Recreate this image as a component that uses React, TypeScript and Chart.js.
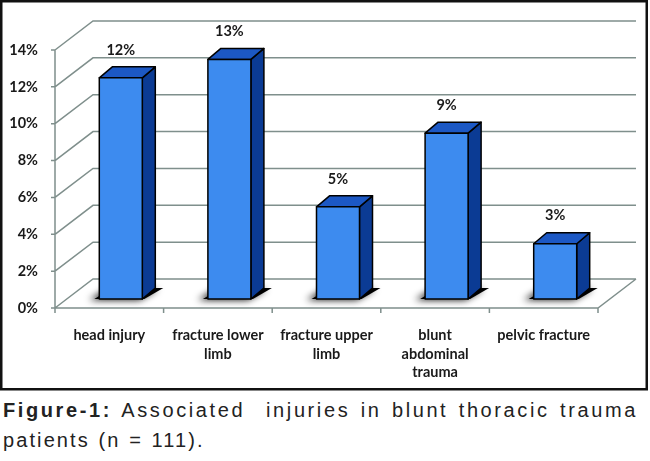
import React, { useRef, useEffect } from 'react';
import { Chart, registerables } from 'chart.js';

Chart.register(...registerables);

const injuryLabels = [
  ['head injury'],
  ['fracture lower', 'limb'],
  ['fracture upper', 'limb'],
  ['blunt', 'abdominal', 'trauma'],
  ['pelvic fracture'],
];
const injuryPercent = [12, 13, 5, 9, 3];
const percentTicks = [0, 2, 4, 6, 8, 10, 12, 14];

// 3d offsets (px)
const WALL_DX = 38;
const WALL_DY = -29;
const BAR_DX = 11.5;
const BAR_DY = -9;
const DEPTH_DX = 13;
const DEPTH_DY = -11;

const GRID = '#7f8f8c';
const LABEL_FONT = { family: 'Lato', size: 14.5, weight: 'bold' as const };

const box3d = {
  id: 'box3d',
  beforeDraw(chart: any) {
    const { ctx, width, height } = chart;
    ctx.save();
    ctx.fillStyle = '#fff';
    ctx.fillRect(0, 0, width, height);
    ctx.restore();
  },
  beforeDatasetsDraw(chart: any) {
    const { ctx, chartArea, scales } = chart;
    const { left, right, bottom, top } = chartArea;
    const y = scales.y;
    ctx.save();
    ctx.strokeStyle = GRID;
    ctx.lineWidth = 1.5;
    ctx.beginPath();
    percentTicks.forEach((v) => {
      const py = y.getPixelForValue(v);
      ctx.moveTo(left, py);
      ctx.lineTo(left + WALL_DX, py + WALL_DY);
      ctx.lineTo(right + WALL_DX, py + WALL_DY);
      // little tick on the front axis
      ctx.moveTo(left - 4, py);
      ctx.lineTo(left, py);
    });
    // front axis and floor edge
    ctx.moveTo(left, top);
    ctx.lineTo(left, bottom);
    ctx.lineTo(right, bottom);
    ctx.lineTo(right + WALL_DX, bottom + WALL_DY);
    // category ticks
    const step = (right - left) / injuryLabels.length;
    for (let i = 0; i <= injuryLabels.length; i++) {
      const px = left + step * i;
      ctx.moveTo(px, bottom);
      ctx.lineTo(px, bottom + 5);
    }
    ctx.stroke();
    ctx.restore();
  },
  afterDatasetsDraw(chart: any) {
    const { ctx } = chart;
    const meta = chart.getDatasetMeta(0);
    ctx.save();
    // shadows first
    meta.data.forEach((bar: any) => {
      const w = bar.width;
      const x0 = bar.x - w / 2 + BAR_DX;
      const x1 = bar.x + w / 2 + BAR_DX;
      const yb = bar.base + BAR_DY;
      ctx.save();
      ctx.shadowColor = 'rgba(0,0,0,0.95)';
      ctx.shadowBlur = 7;
      ctx.shadowOffsetX = -5;
      ctx.shadowOffsetY = 1;
      ctx.fillStyle = '#000';
      ctx.beginPath();
      ctx.moveTo(x0 - 5, yb);
      ctx.lineTo(x1 + 2, yb);
      ctx.lineTo(x1 + DEPTH_DX + 8, yb + DEPTH_DY);
      ctx.lineTo(x0 + DEPTH_DX, yb + DEPTH_DY);
      ctx.closePath();
      ctx.fill();
      ctx.restore();
    });
    ctx.lineWidth = 1.5;
    ctx.strokeStyle = '#000';
    ctx.lineJoin = 'round';
    meta.data.forEach((bar: any, i: number) => {
      const w = bar.width;
      const x0 = bar.x - w / 2 + BAR_DX;
      const x1 = bar.x + w / 2 + BAR_DX;
      const yt = bar.y + BAR_DY;
      const yb = bar.base + BAR_DY;
      // side
      ctx.fillStyle = '#0b3b94';
      ctx.beginPath();
      ctx.moveTo(x1, yt);
      ctx.lineTo(x1 + DEPTH_DX, yt + DEPTH_DY);
      ctx.lineTo(x1 + DEPTH_DX, yb + DEPTH_DY);
      ctx.lineTo(x1, yb);
      ctx.closePath();
      ctx.fill();
      ctx.stroke();
      // top
      ctx.fillStyle = '#1c58c4';
      ctx.beginPath();
      ctx.moveTo(x0, yt);
      ctx.lineTo(x0 + DEPTH_DX, yt + DEPTH_DY);
      ctx.lineTo(x1 + DEPTH_DX, yt + DEPTH_DY);
      ctx.lineTo(x1, yt);
      ctx.closePath();
      ctx.fill();
      ctx.stroke();
      // front
      ctx.fillStyle = '#3d8bef';
      ctx.beginPath();
      ctx.rect(x0, yt, x1 - x0, yb - yt);
      ctx.fill();
      ctx.stroke();
      // value label
      ctx.fillStyle = '#1a1a1a';
      ctx.font = `bold ${LABEL_FONT.size}px Lato`;
      ctx.textAlign = 'center';
      ctx.textBaseline = 'middle';
      ctx.fillText(`${injuryPercent[i]}%`, (x0 + x1) / 2, yt - 28);
    });
    ctx.restore();
  },
  afterDraw(chart: any) {
    const { ctx } = chart;
    ctx.save();
    ctx.strokeStyle = '#111';
    ctx.lineWidth = 2.5;
    ctx.strokeRect(1.25, 1.25, 645.5, 388);
    ctx.restore();
  },
};

function InjuryChart() {
  const canvasRef = useRef<HTMLCanvasElement>(null);
  const chartRef = useRef<Chart | null>(null);

  useEffect(() => {
    if (!canvasRef.current) return;
    if (chartRef.current) chartRef.current.destroy();
    const ctx = canvasRef.current.getContext('2d');
    if (!ctx) return;

    chartRef.current = new Chart(ctx, {
      type: 'bar',
      data: {
        labels: injuryLabels,
        datasets: [
          {
            data: injuryPercent,
            backgroundColor: 'rgba(0,0,0,0)',
            borderWidth: 0,
            barPercentage: 0.396,
            categoryPercentage: 1,
          },
        ],
      },
      options: {
        responsive: false,
        animation: false,
        layout: { padding: { left: 0, right: 52, top: 50, bottom: 0 } },
        plugins: {
          legend: { display: false },
          tooltip: { enabled: false },
        },
        scales: {
          x: {
            grid: { display: false, drawTicks: false },
            border: { display: false },
            ticks: {
              color: '#1a1a1a',
              padding: 18,
              maxRotation: 0,
              autoSkip: false,
              font: { ...LABEL_FONT, lineHeight: 1.28 },
            },
            afterFit: (scale: any) => {
              scale.height = 84;
            },
          },
          y: {
            min: 0,
            max: 14,
            grid: { display: false, drawTicks: false },
            border: { display: false },
            afterBuildTicks: (scale: any) => {
              scale.ticks = percentTicks.map((v) => ({ value: v }));
            },
            ticks: {
              color: '#1a1a1a',
              padding: 17,
              callback: (v: any) => `${v}%`,
              font: LABEL_FONT,
            },
            afterFit: (scale: any) => {
              scale.width = 55;
            },
          },
        },
      },
      plugins: [box3d],
    });

    return () => {
      if (chartRef.current) {
        chartRef.current.destroy();
        chartRef.current = null;
      }
    };
  }, []);

  return <canvas ref={canvasRef} width={650} height={392} />;
}

export default function App() {
  return (
    <div
      style={{
        position: 'absolute',
        left: 0,
        top: 0,
        width: 650,
        height: 461,
        background: '#fff',
        overflow: 'hidden',
      }}
    >
      <div style={{ position: 'absolute', left: 0, top: 0 }}>
        <InjuryChart />
      </div>
      <div
        style={{
          position: 'absolute',
          left: 3,
          top: 395,
          fontFamily: '"Liberation Sans", Arial, sans-serif',
          fontSize: 20,
          lineHeight: '30px',
          color: '#222',
          whiteSpace: 'pre',
        }}
      >
        <div style={{ letterSpacing: '2.6px', wordSpacing: '2.3px' }}>
          <b>Figure-1:</b>
          {' Associated  injuries in blunt thoracic trauma'}
        </div>
        <div style={{ letterSpacing: '2.1px', wordSpacing: '1px' }}>patients (n = 111).</div>
      </div>
    </div>
  );
}
